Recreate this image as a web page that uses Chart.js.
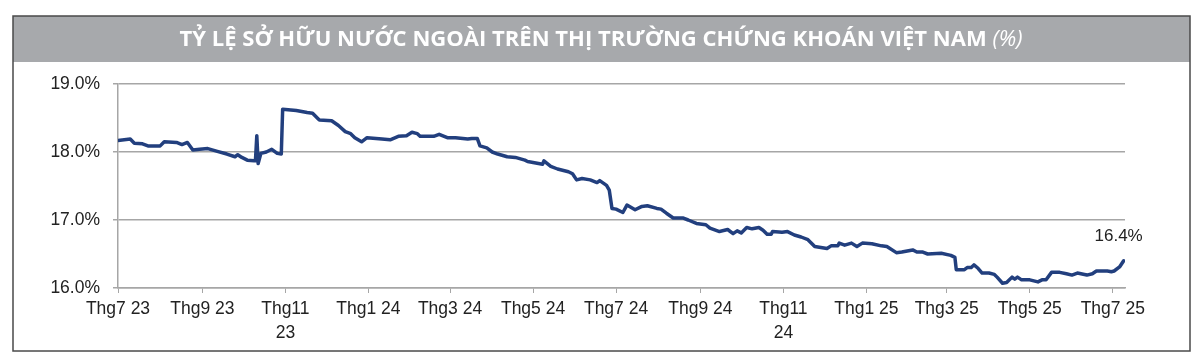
<!DOCTYPE html>
<html>
<head>
<meta charset="utf-8">
<script src="https://cdn.jsdelivr.net/npm/chart.js@4/dist/chart.umd.min.js"></script>
<style>
    html, body { margin: 0; padding: 0; background: #fff; }
    #wrap { width: 1200px; height: 359px; }
</style>
</head>
<body>
<div id="wrap"><canvas id="ownershipChart" width="1200" height="359"></canvas></div>
<script>
// ngày tính từ 01/07/2023
var days = [0, 9, 12, 18, 22, 31, 34, 43, 47, 51, 55, 60, 66, 73, 80, 86, 88, 91, 95, 100,
    101, 102, 103, 105, 109, 113, 117, 120, 121, 131, 139, 143, 145, 147, 148, 157, 162, 167, 171, 174,
    179, 183, 194, 200, 206, 212, 216, 220, 222, 232, 236, 242, 248, 257, 260, 264, 266, 271, 275, 279,
    286, 292, 299, 301, 312, 313, 318, 323, 331, 334, 337, 341, 347, 352, 354, 359, 361, 363, 366, 371,
    374, 380, 385, 389, 396, 399, 403, 408, 415, 419, 425, 432, 435, 442, 448, 452, 455, 458, 462, 466,
    471, 474, 477, 480, 481, 488, 492, 497, 502, 507, 512, 521, 524, 529, 530, 534, 539, 543, 547, 554,
    561, 565, 572, 576, 584, 587, 591, 595, 605, 612, 615, 616, 622, 624, 627, 629, 632, 635, 640, 644,
    646, 650, 653, 657, 659, 661, 664, 670, 676, 679, 682, 686, 692, 697, 701, 705, 712, 716, 719, 727,
    730, 732, 736, 739];

var ownership = [18.17, 18.19, 18.13, 18.12, 18.09, 18.09, 18.15, 18.14, 18.11, 18.14, 18.03, 18.04, 18.05, 18.01, 17.97, 17.93, 17.96, 17.92, 17.88, 17.87,
    17.87, 18.24, 17.83, 17.98, 18.00, 18.04, 17.98, 17.97, 18.63, 18.61, 18.58, 18.57, 18.53, 18.49, 18.47, 18.46, 18.39, 18.30, 18.27, 18.21,
    18.15, 18.21, 18.19, 18.18, 18.23, 18.24, 18.29, 18.27, 18.23, 18.23, 18.26, 18.21, 18.21, 18.19, 18.20, 18.20, 18.09, 18.06, 18.00, 17.97,
    17.93, 17.92, 17.88, 17.86, 17.82, 17.87, 17.79, 17.75, 17.71, 17.68, 17.59, 17.61, 17.59, 17.55, 17.58, 17.51, 17.44, 17.17, 17.16, 17.11,
    17.22, 17.15, 17.20, 17.21, 17.17, 17.16, 17.10, 17.03, 17.03, 17.00, 16.95, 16.93, 16.88, 16.83, 16.86, 16.80, 16.84, 16.81, 16.89, 16.87,
    16.89, 16.85, 16.79, 16.79, 16.83, 16.82, 16.83, 16.78, 16.75, 16.71, 16.61, 16.58, 16.62, 16.62, 16.66, 16.63, 16.66, 16.61, 16.66, 16.65,
    16.62, 16.61, 16.52, 16.53, 16.56, 16.53, 16.53, 16.50, 16.51, 16.48, 16.45, 16.27, 16.27, 16.30, 16.30, 16.34, 16.29, 16.22, 16.22, 16.20,
    16.16, 16.07, 16.08, 16.16, 16.13, 16.16, 16.12, 16.12, 16.09, 16.12, 16.12, 16.23, 16.23, 16.21, 16.19, 16.22, 16.19, 16.21, 16.25, 16.25,
    16.24, 16.25, 16.31, 16.40];

var tickDays = [0, 62, 123, 184, 244, 305, 366, 428, 489, 550, 609, 670, 731];
var tickLabels = ["Thg7 23", "Thg9 23", ["Thg11", "23"], "Thg1 24", "Thg3 24", "Thg5 24", "Thg7 24",
    "Thg9 24", ["Thg11", "24"], "Thg1 25", "Thg3 25", "Thg5 25", "Thg7 25"];

var chartTitle = "TỶ LỆ SỞ HỮU NƯỚC NGOÀI TRÊN THỊ TRƯỜNG CHỨNG KHOÁN VIỆT NAM ";
var chartUnit = "(%)";
var lastLabel = "16.4%";

var points = days.map(function (d, i) {
    return { x: d, y: ownership[i] };
});

var framePlugin = {
    id: "frame",
    beforeDraw: function (chart) {
        var ctx = chart.ctx;
        ctx.save();
        ctx.fillStyle = "#ffffff";
        ctx.fillRect(0, 0, chart.width, chart.height);

        // thanh tiêu đề
        ctx.fillStyle = "#a7a9ac";
        ctx.fillRect(13, 16, 1177, 46);

        ctx.font = "bold 21px 'Open Sans'";
        var w1 = ctx.measureText(chartTitle).width;
        ctx.font = "italic 21px 'Open Sans'";
        var w2 = ctx.measureText(chartUnit).width;
        var k = 843 / (w1 + w2);
        ctx.translate(601, 46);
        ctx.scale(k, 1);
        ctx.fillStyle = "#ffffff";
        ctx.textBaseline = "alphabetic";
        ctx.textAlign = "left";
        var x0 = -(w1 + w2) / 2;
        ctx.font = "bold 21px 'Open Sans'";
        ctx.fillText(chartTitle, x0, 0);
        ctx.font = "italic 21px 'Open Sans'";
        ctx.fillText(chartUnit, x0 + w1, 0);
        ctx.restore();

        ctx.save();
        ctx.strokeStyle = "#4a4a4a";
        ctx.lineWidth = 1.5;
        ctx.strokeRect(13, 16, 1177, 335);
        ctx.restore();
    },
    afterDatasetsDraw: function (chart) {
        var ctx = chart.ctx;
        var xs = chart.scales.x;
        var ys = chart.scales.y;
        var n = days.length - 1;
        ctx.save();
        ctx.font = "17px 'Liberation Sans', Arial";
        ctx.fillStyle = "#222222";
        ctx.textAlign = "center";
        ctx.textBaseline = "middle";
        ctx.fillText(lastLabel, xs.getPixelForValue(days[n]) - 5, ys.getPixelForValue(ownership[n]) - 24);
        ctx.restore();
    }
};

new Chart(document.getElementById("ownershipChart"), {
    type: "line",
    data: {
        datasets: [
            {
                label: "Tỷ lệ sở hữu nước ngoài",
                data: points,
                borderColor: "#223f7e",
                borderWidth: 3.5,
                pointRadius: 0,
                tension: 0,
                borderJoinStyle: "round",
                borderCapStyle: "round",
                fill: false,
            },
        ],
    },
    options: {
        responsive: false,
        animation: false,
        devicePixelRatio: 1,
        layout: {
            padding: { left: 0, right: 75, top: 84, bottom: 0 },
        },
        plugins: {
            legend: { display: false },
            tooltip: { enabled: false },
        },
        scales: {
            x: {
                type: "linear",
                min: 0,
                max: 740,
                afterBuildTicks: function (scale) {
                    scale.ticks = tickDays.map(function (d) { return { value: d }; });
                },
                afterFit: function (scale) {
                    scale.height = 71;
                },
                ticks: {
                    autoSkip: false,
                    maxRotation: 0,
                    padding: 5,
                    color: "#222222",
                    font: { family: "'Liberation Sans', Arial", size: 17.5, lineHeight: 1.33 },
                    callback: function (value, index) {
                        return tickLabels[index];
                    },
                },
                grid: {
                    drawOnChartArea: false,
                    drawTicks: true,
                    tickLength: 5,
                    color: "#a6a6a6",
                },
                border: { color: "#a6a6a6", width: 1.5 },
            },
            y: {
                min: 16,
                max: 19,
                afterFit: function (scale) {
                    scale.width = 118;
                },
                ticks: {
                    stepSize: 1,
                    padding: 13,
                    color: "#222222",
                    font: { family: "'Liberation Sans', Arial", size: 17.5 },
                    callback: function (value) {
                        return value.toFixed(1) + "%";
                    },
                },
                grid: {
                    color: "#a6a6a6",
                    lineWidth: 1.5,
                    tickLength: 5,
                },
                border: { color: "#a6a6a6", width: 1.5 },
            },
        },
    },
    plugins: [framePlugin],
});
</script>
</body>
</html>
